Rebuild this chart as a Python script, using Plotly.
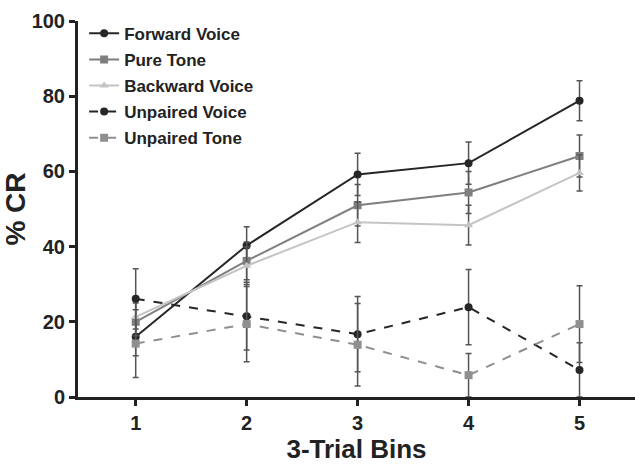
import plotly.graph_objects as go

bins = [1, 2, 3, 4, 5]
tick_labels = ["1", "2", "3", "4", "5"]

forward_voice = [16.0, 40.3, 59.2, 62.2, 78.8]
forward_voice_err = [5.0, 5.0, 5.6, 5.6, 5.3]
pure_tone = [20.0, 36.2, 51.0, 54.4, 64.1]
pure_tone_err = [5.0, 5.0, 5.5, 5.6, 5.6]
backward_voice = [21.3, 34.9, 46.5, 45.7, 59.6]
backward_voice_err = [5.0, 5.0, 5.4, 5.3, 4.8]
unpaired_voice = [26.1, 21.5, 16.7, 23.9, 7.2]
unpaired_voice_err = [8.0, 9.0, 10.0, 10.0, 7.2]
unpaired_tone = [14.2, 19.4, 13.9, 5.8, 19.4]
unpaired_tone_err = [9.0, 10.0, 11.0, 5.8, 10.2]

series = [
    ("Forward Voice", forward_voice, forward_voice_err, "#262626", "solid", "circle"),
    ("Pure Tone", pure_tone, pure_tone_err, "#7f7f7f", "solid", "square"),
    ("Backward Voice", backward_voice, backward_voice_err, "#c4c4c4", "solid", "triangle-up"),
    ("Unpaired Voice", unpaired_voice, unpaired_voice_err, "#262626", "dash", "circle"),
    ("Unpaired Tone", unpaired_tone, unpaired_tone_err, "#8f8f8f", "dash", "square"),
]

fig = go.Figure()
for i, (name, vals, err, color, dash, sym) in enumerate(series):
    fig.add_trace(go.Scatter(
        x=bins, y=vals, name=name, mode="lines+markers",
        legendgroup=f"g{i}",
        line=dict(color=color, width=2, dash=dash),
        marker=dict(symbol=sym, size=8, color=color),
        error_y=dict(type="data", array=err, visible=True,
                     color="#555555", thickness=1.5, width=3),
    ))

font_family = "Liberation Sans, Arial, sans-serif"
fig.update_layout(
    width=635, height=464,
    margin=dict(l=78, r=0, t=21, b=67),
    paper_bgcolor="white", plot_bgcolor="white",
    font=dict(family=font_family, color="#222222"),
    showlegend=True,
    legend=dict(
        x=0.011, y=1.014, xanchor="left", yanchor="top",
        font=dict(size=17, family=font_family, color="#222222", weight="bold"),
        bgcolor="rgba(0,0,0,0)", tracegroupgap=1, itemwidth=30,
    ),
    xaxis=dict(
        range=[0.48, 5.5], tickvals=bins, ticktext=tick_labels,
        automargin=False,
        showgrid=False, zeroline=False,
        showline=True, linecolor="#222222", linewidth=3,
        ticks="outside", ticklen=6, tickwidth=3, tickcolor="#222222",
        tickfont=dict(size=20, weight="bold"),
        title=dict(text="3-Trial Bins", font=dict(size=26, weight="bold"), standoff=10),
    ),
    yaxis=dict(
        range=[0, 100], tickvals=[0, 20, 40, 60, 80, 100],
        automargin=False,
        showgrid=False, zeroline=False,
        showline=True, linecolor="#222222", linewidth=3,
        ticks="outside", ticklen=6, tickwidth=3, tickcolor="#222222",
        tickfont=dict(size=20, weight="bold"),
        title=dict(text="% CR", font=dict(size=28, weight="bold"), standoff=3),
    ),
)

fig.write_html("out.html", config={"displayModeBar": False},
               post_script="document.body.style.margin='0';")
